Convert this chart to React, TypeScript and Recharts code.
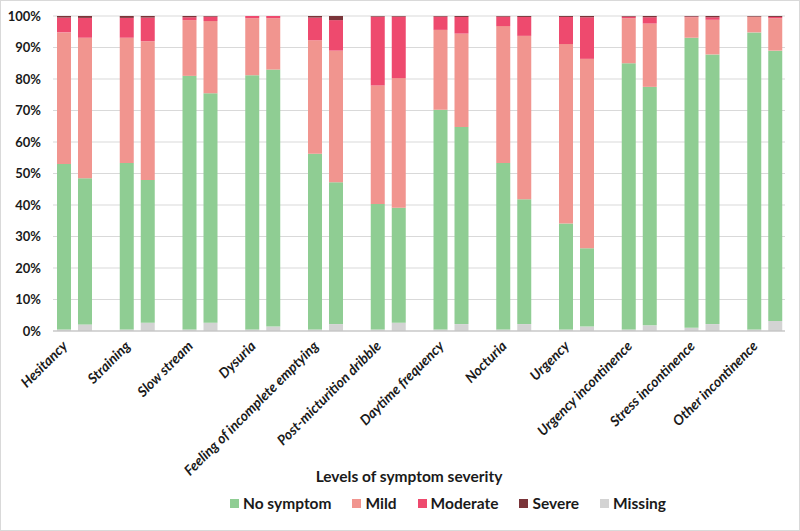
import React from 'react';
import { BarChart, Bar, XAxis, YAxis, CartesianGrid, Legend } from 'recharts';

const categories = [
    'Hesitancy', 'Straining', 'Slow stream', 'Dysuria', 'Feeling of incomplete emptying',
    'Post-micturition dribble', 'Daytime frequency', 'Nocturia', 'Urgency',
    'Urgency incontinence', 'Stress incontinence', 'Other incontinence',
];

// first bar of each pair
const missingA = [0.5, 0.5, 0.5, 0.5, 0.5, 0.5, 0.5, 0.5, 0.5, 0.5, 1.0, 0.5];
const noneA = [52.5, 52.8, 80.5, 80.7, 55.8, 39.8, 69.7, 52.8, 33.6, 84.5, 92.1, 94.3];
const mildA = [41.8, 39.8, 17.7, 18.1, 36.0, 37.6, 25.4, 43.5, 57.0, 14.3, 6.5, 5.0];
const moderateA = [4.7, 6.3, 0.9, 0.7, 7.2, 21.9, 4.2, 3.0, 8.6, 0.5, 0.2, 0.0];
const severeA = [0.5, 0.6, 0.4, 0.0, 0.5, 0.2, 0.2, 0.2, 0.3, 0.2, 0.2, 0.2];

// second bar of each pair
const missingB = [2.1, 2.6, 2.6, 1.4, 2.2, 2.6, 2.2, 2.2, 1.4, 1.8, 2.2, 3.2];
const noneB = [46.4, 45.3, 72.9, 81.6, 45.0, 36.5, 62.6, 39.6, 24.9, 75.7, 85.6, 85.8];
const mildB = [44.6, 44.1, 22.9, 16.3, 41.8, 41.2, 29.6, 51.9, 60.1, 20.1, 11.0, 10.3];
const moderateB = [6.3, 7.5, 1.4, 0.7, 9.7, 19.5, 5.3, 6.0, 13.2, 2.0, 0.8, 0.4];
const severeB = [0.6, 0.5, 0.2, 0.0, 1.3, 0.2, 0.3, 0.3, 0.4, 0.4, 0.4, 0.3];

const yTicks = [0, 10, 20, 30, 40, 50, 60, 70, 80, 90, 100];

const levels = ['No symptom', 'Mild', 'Moderate', 'Severe', 'Missing'];
const colors: Record<string, string> = {
    'No symptom': '#8fcd93',
    'Mild': '#f1958f',
    'Moderate': '#ee4a6e',
    'Severe': '#7a3439',
    'Missing': '#d3d3d3',
};

const data = categories.map((name, i) => ({
    name,
    missingA: missingA[i], noneA: noneA[i], mildA: mildA[i], moderateA: moderateA[i], severeA: severeA[i],
    missingB: missingB[i], noneB: noneB[i], mildB: mildB[i], moderateB: moderateB[i], severeB: severeB[i],
}));

const FONT = 'Lato, "Open Sans", sans-serif';

const XTick = ({ x, y, payload }: any) => (
    <g transform={`translate(${x - 6},${y + 16}) rotate(-45)`}>
        <text x={0} y={0} textAnchor="end" fontSize={14} fontWeight="bold" fontStyle="italic" fill="#1a1a1a" fontFamily={FONT}>
            {payload.value}
        </text>
    </g>
);

const renderLegend = () => (
    <div style={{ fontFamily: FONT, color: '#1a1a1a', fontWeight: 'bold', position: 'relative', width: 800, height: 60 }}>
        <div style={{ position: 'absolute', top: 0, left: 0, width: 816, textAlign: 'center', fontSize: 15.5 }}>
            Levels of symptom severity
        </div>
        <div style={{ position: 'absolute', top: 27, left: 229, display: 'flex', gap: 21, fontSize: 15.5 }}>
            {levels.map(l => (
                <div key={l} style={{ display: 'flex', alignItems: 'center' }}>
                    <span style={{ width: 9, height: 9, background: colors[l], marginRight: 4, display: 'inline-block' }} />
                    <span>{l}</span>
                </div>
            ))}
        </div>
    </div>
);

export default function App() {
    return (
        <div style={{ position: 'absolute', left: 0, top: 0, width: 800, height: 531, background: '#fff', border: '1px solid #d9d9d9', boxSizing: 'border-box' }}>
            <BarChart
                width={798}
                height={529}
                data={data}
                margin={{ top: 15, right: 14, left: 0, bottom: 0 }}
                barSize={14}
                barGap={7}
            >
                <CartesianGrid vertical={false} stroke="#d9d9d9" />
                <XAxis
                    dataKey="name"
                    height={199}
                    interval={0}
                    tick={<XTick />}
                    tickLine={false}
                    tickSize={0}
                    tickMargin={0}
                    axisLine={{ stroke: '#bfbfbf' }}
                    padding={{ left: -10, right: -11 }}
                />
                <YAxis
                    width={52}
                    domain={[0, 100]}
                    ticks={yTicks}
                    tickFormatter={(v: number) => `${v}%`}
                    axisLine={false}
                    tickLine={false}
                    tickSize={0}
                    tickMargin={12}
                    allowDataOverflow
                    tick={{ fontSize: 13, fontWeight: 'bold', fill: '#1a1a1a', fontFamily: FONT }}
                />
                <Legend
                    layout="vertical"
                    align="center"
                    verticalAlign="middle"
                    content={renderLegend}
                    wrapperStyle={{ top: 466, left: 0, width: 800 }}
                />
                <Bar dataKey="missingA" stackId="a" fill={colors['Missing']} isAnimationActive={false} />
                <Bar dataKey="noneA" stackId="a" fill={colors['No symptom']} isAnimationActive={false} />
                <Bar dataKey="mildA" stackId="a" fill={colors['Mild']} isAnimationActive={false} />
                <Bar dataKey="moderateA" stackId="a" fill={colors['Moderate']} isAnimationActive={false} />
                <Bar dataKey="severeA" stackId="a" fill={colors['Severe']} isAnimationActive={false} />
                <Bar dataKey="missingB" stackId="b" fill={colors['Missing']} isAnimationActive={false} />
                <Bar dataKey="noneB" stackId="b" fill={colors['No symptom']} isAnimationActive={false} />
                <Bar dataKey="mildB" stackId="b" fill={colors['Mild']} isAnimationActive={false} />
                <Bar dataKey="moderateB" stackId="b" fill={colors['Moderate']} isAnimationActive={false} />
                <Bar dataKey="severeB" stackId="b" fill={colors['Severe']} isAnimationActive={false} />
            </BarChart>
        </div>
    );
}
